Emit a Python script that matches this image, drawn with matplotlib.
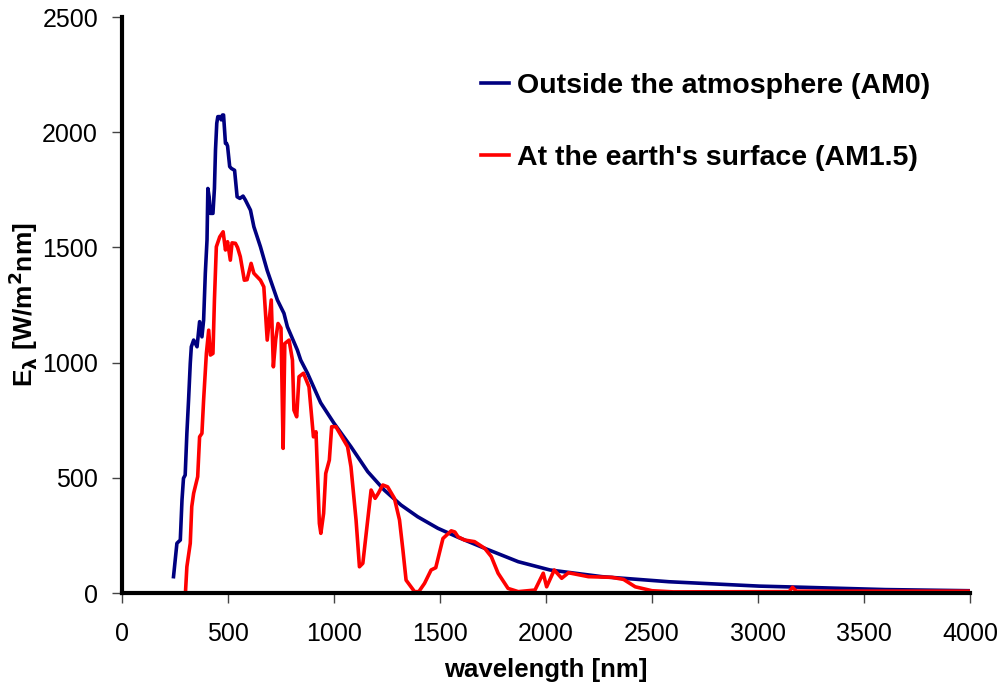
import matplotlib
matplotlib.use("Agg")
import matplotlib.pyplot as plt

plt.rcParams['font.family'] = ['Liberation Sans', 'DejaVu Sans']

# AM0 spectrum (outside atmosphere)
am0_wl = [243, 259, 275, 283, 290, 298, 306, 314, 322, 327, 338, 354, 366, 377,
          385, 393, 401, 405, 411, 417, 429, 436, 441, 447, 452, 463, 468, 474,
          479, 488, 493, 498, 508, 516, 531, 543, 556, 571, 582, 606, 622, 653,
          685, 733, 764, 780, 827, 843, 875, 937, 1000, 1080, 1159, 1237, 1316,
          1395, 1490, 1585, 1711, 1869, 2019, 2264, 2580, 3006, 3212, 3600, 4000]
am0_e = [71, 216, 230, 404, 498, 512, 693, 838, 997, 1069, 1098, 1069, 1178, 1112,
         1185, 1388, 1532, 1756, 1720, 1648, 1648, 1756, 1923, 2039, 2068, 2068,
         2054, 2075, 2075, 1952, 1952, 1940, 1851, 1843, 1835, 1720, 1713, 1723,
         1706, 1662, 1590, 1503, 1400, 1272, 1214, 1156, 1055, 1011, 954, 826,
         737, 635, 527, 447, 382, 331, 281, 242, 194, 136, 100, 71, 49, 30, 25,
         15, 10]

# AM1.5 spectrum (earth's surface)
am15_wl = [300, 306, 322, 329, 338, 357, 366, 377, 385, 398, 409, 417, 429, 436,
           445, 461, 477, 488, 498, 511, 519, 535, 545, 558, 577, 590, 609, 622,
           653, 669, 685, 704, 714, 725, 736, 750, 760, 768, 788, 804, 811, 824,
           835, 856, 882, 903, 915, 931, 938, 951, 961, 978, 989, 1009, 1064, 1080,
           1104, 1120, 1136, 1159, 1175, 1194, 1209, 1230, 1253, 1285, 1309, 1325,
           1340, 1380, 1400, 1427, 1458, 1480, 1514, 1553, 1570, 1585, 1616, 1663,
           1711, 1742, 1774, 1821, 1869, 1948, 1987, 2003, 2039, 2074, 2106, 2200,
           2311, 2366, 2421, 2500, 2600, 3147, 3163, 3180, 3500, 4000]
am15_e = [13, 114, 216, 375, 433, 505, 678, 693, 838, 1040, 1141, 1033, 1040, 1272,
          1503, 1546, 1568, 1489, 1525, 1445, 1520, 1518, 1500, 1460, 1358, 1360,
          1431, 1388, 1358, 1329, 1098, 1272, 982, 1100, 1170, 1150, 628, 1083,
          1098, 1011, 794, 765, 939, 954, 895, 678, 700, 302, 259, 346, 519, 577,
          722, 722, 635, 548, 317, 114, 129, 317, 447, 411, 433, 469, 461, 411,
          317, 187, 56, 6, 6, 42, 100, 110, 237, 270, 265, 244, 230, 223, 194,
          158, 86, 20, 6, 13, 86, 27, 100, 64, 88, 71, 68, 59, 27, 10, 5, 6, 25,
          8, 8, 8]

fig = plt.figure(figsize=(10, 6.84), dpi=100)
ax = fig.add_axes([0.122, 0.133, 0.848, 0.842])

ax.plot(am0_wl, am0_e, color='#000080', lw=2.6, label='Outside the atmosphere (AM0)')
ax.plot(am15_wl, am15_e, color='#ff0000', lw=2.6, label="At the earth's surface (AM1.5)")

ax.set_xlim(0, 4000)
ax.set_ylim(0, 2500)
ax.set_xticks(range(0, 4001, 500))
ax.set_yticks(range(0, 2501, 500))
ax.tick_params(labelsize=18, direction='out', length=7.2, width=1, color='#444444')
ax.tick_params(axis='x', pad=14)
ax.tick_params(axis='y', pad=10)

for s in ['top', 'right']:
    ax.spines[s].set_visible(False)
for s in ['left', 'bottom']:
    ax.spines[s].set_linewidth(3)

ax.set_xlabel('wavelength [nm]', fontsize=18.5, fontweight='bold', labelpad=8)
ax.set_ylabel(r'E$_\mathbf{\lambda}$ [W/m$^\mathbf{2}$nm]', fontsize=19,
              fontweight='bold')
ax.yaxis.set_label_coords(-0.097, 0.5)

leg = ax.legend(loc='upper left', bbox_to_anchor=(0.393, 0.947), frameon=False,
                prop={'size': 20.5, 'weight': 'bold'}, handlelength=1.0,
                handletextpad=0.28, labelspacing=1.6)

fig.savefig('out.png', dpi=100)
